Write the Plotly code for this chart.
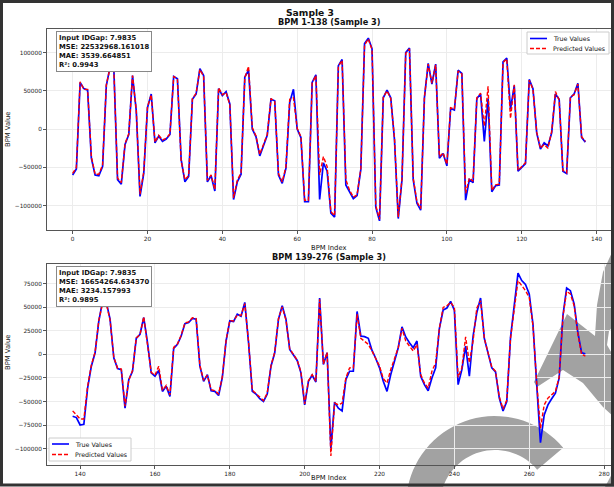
import numpy as np
import plotly.graph_objects as go

# ---------------- data ----------------
top_index = list(range(0, 138))
top_true = [-60000, -52000, 61000, 53000, 51000, -38000, -60000, -61000, -49000, 57000,
            81000, 81000, -66000, -72000, -20000, -7000, 70000, 24000, -88000, -58000,
            28000, 46000, -18000, -9000, -16000, -13000, -7000, 69000, 66000, -40000,
            -69000, -62000, 39000, 46000, 79000, 70000, -69000, -61000, -81000, 53000,
            44000, 49000, 33000, -92000, -69000, -59000, 68000, 77000, 0, -10000,
            -35000, -20000, -8000, 39000, 37000, -60000, -71000, -51000, 35000, 52000,
            0, -11000, -95000, -95000, 61000, 71000, -92000, -44000, -55000, -110000,
            -115000, 83000, 91000, -73000, -82000, -91000, -87000, -53000, 112000, 119000,
            105000, -102000, -120000, 41000, 51000, 41000, -14000, -117000, -66000, 100000,
            106000, -66000, -97000, -106000, 41000, 86000, 59000, 85000, -38000, -32000,
            -48000, 27000, 25000, 77000, 73000, -93000, -66000, -70000, 40000, 46000,
            -16000, 40000, -82000, -74000, -73000, 88000, 93000, 26000, 57000, -55000,
            -50000, -45000, 65000, 53000, -5000, -26000, -18000, -22000, -5000, 46000,
            39000, -55000, -58000, 41000, 46000, 60000, -11000, -17000]
top_pred = [-58000, -50000, 62000, 52000, 52000, -36000, -59000, -59000, -47000, 58000,
            80000, 80000, -64000, -70000, -19000, -6000, 70000, 25000, -85000, -56000,
            29000, 45000, -17000, -8000, -14000, -12000, -6000, 69000, 65000, -42000,
            -66000, -61000, 40000, 47000, 78000, 69000, -67000, -60000, -79000, 54000,
            45000, 48000, 32000, -90000, -67000, -57000, 67000, 82000, 2000, -9000,
            -33000, -20000, -7000, 40000, 36000, -58000, -69000, -49000, 39000, 41000,
            1000, -10000, -93000, -93000, 60000, 70000, -60000, -36000, -49000, -108000,
            -113000, 82000, 90000, -66000, -80000, -89000, -86000, -52000, 110000, 118000,
            104000, -100000, -118000, 42000, 50000, 40000, -12000, -115000, -65000, 99000,
            105000, -64000, -95000, -104000, 42000, 85000, 60000, 84000, -36000, -31000,
            -46000, 28000, 26000, 76000, 72000, -84000, -64000, -68000, 41000, 47000,
            4000, 56000, -80000, -73000, -72000, 87000, 92000, 14000, 58000, -54000,
            -49000, -44000, 64000, 52000, -4000, -25000, -20000, -25000, -3000, 49000,
            38000, -54000, -57000, 42000, 45000, 59000, -10000, -16000]

bottom_index = list(range(138, 276))
bottom_true = [-65700, -67100, -75000, -74300, -35700, -12500, 1800, 35700, 56400, 55300,
               37500, -3600, -15000, -16100, -57100, -26800, -17900, 17100, 21400, 39200,
               12500, -19600, -23200, -17100, -39300, -33900, -44600, 6400, 10700, 19600,
               32800, 33900, 38200, 37500, -12500, -28600, -21400, -38600, -39300, -43600,
               -24300, 14300, 35700, 35000, 42800, 40700, 55300, 12500, -39300, -42100,
               -47100, -50000, -42100, -12500, 1800, 37500, 51800, 37500, 5300, 0,
               -6400, -19600, -53600, -28600, -22100, -29300, 59900, -10700, 1800, -100000,
               -50700, -57100, -60000, -26800, -17900, -17900, 45700, 19600, 18900, 17100,
               4300, -4300, -14300, -28600, -39300, -21400, -7100, 7100, 29300, 18600,
               12500, 7100, 14300, -23200, -32100, -38600, -25000, -14300, 27800, 47100,
               49300, 56400, 47100, -32100, -16100, 8900, -23200, 19600, 44600, 59900,
               17100, 1800, -14300, -18600, -46400, -60000, -50000, 17900, 51800, 86400,
               78500, 74300, 64300, 32100, -32100, -93700, -64300, -53600, -47100, -41100,
               -25000, 41100, 70700, 67800, 53600, 23200, 1800, 700]
bottom_pred = [-60000, -64300, -68600, -68600, -34000, -11500, 2500, 36500, 54200, 54000,
               36500, -3000, -14500, -15500, -55000, -27500, -17000, 17500, 21000, 40000,
               13000, -19000, -22000, -12500, -38000, -33000, -43000, 7500, 11000, 20500,
               33500, 34500, 39000, 38000, -11500, -27500, -22000, -37500, -38500, -42000,
               -23500, 15000, 36000, 35500, 42000, 41500, 54000, 13500, -38000, -41500,
               -46000, -49000, -41000, -12000, 2500, 38000, 50500, 36500, 6000, 500,
               -6000, -18500, -52500, -28000, -21500, -28500, 58500, -10000, 2000, -107800,
               -51800, -53600, -51800, -25000, -14300, -14300, 42800, 17100, 14300, 10700,
               3600, -4300, -12500, -25700, -30400, -16100, -5400, 7100, 27800, 14300,
               8900, 3600, 10700, -21400, -30400, -35700, -17900, -8900, 27800, 50000,
               51800, 55300, 50000, -24300, -14300, 18600, -8900, 14300, 49300, 57100,
               17100, 2500, -13500, -18000, -45000, -58000, -48500, 17000, 50000, 78500,
               73200, 67800, 60700, 30400, -30400, -78600, -53600, -46400, -42800, -39300,
               -24000, 40000, 67100, 64300, 51800, 21400, 0, -1800]

top_ticks_x = [0, 20, 40, 60, 80, 100, 120, 140]
top_ticks_y = [-100000, -50000, 0, 50000, 100000]
bottom_ticks_x = [140, 160, 180, 200, 220, 240, 260, 280]
bottom_ticks_y = [-100000, -75000, -50000, -25000, 0, 25000, 50000, 75000]

series_names = ["True Values", "Predicted Values"]
top_stats = "Input IDGap: 7.9835<br>MSE: 22532968.161018<br>MAE: 3539.664851<br>R²: 0.9943"
bottom_stats = "Input IDGap: 7.9835<br>MSE: 16654264.634370<br>MAE: 3234.157993<br>R²: 0.9895"

# ---------------- layout geometry ----------------
W, H = 614, 487
L, R, T, B = 47, 3, 29, 22
PW, PH = W - L - R, H - T - B


def P(px, py):
    return (px - L) / PW, (H - B - py) / PH


def lims(a, b):
    lo = min(min(a), min(b))
    hi = max(max(a), max(b))
    m = (hi - lo) * 0.05
    return [lo - m, hi + m]


FONT = "DejaVu Sans"
BLUE, RED = "#0000ff", "#ff0000"
DASH = "4px,2px"
fig = go.Figure()

fig.add_trace(go.Scatter(x=top_index, y=top_true, mode="lines", name=series_names[0],
                         line=dict(color=BLUE, width=1.7), xaxis="x", yaxis="y"))
fig.add_trace(go.Scatter(x=top_index, y=top_pred, mode="lines", name=series_names[1],
                         line=dict(color=RED, width=1.4, dash=DASH), xaxis="x", yaxis="y"))
fig.add_trace(go.Scatter(x=bottom_index, y=bottom_true, mode="lines", name=series_names[0],
                         line=dict(color=BLUE, width=1.7), xaxis="x2", yaxis="y2"))
fig.add_trace(go.Scatter(x=bottom_index, y=bottom_pred, mode="lines", name=series_names[1],
                         line=dict(color=RED, width=1.4, dash=DASH), xaxis="x2", yaxis="y2"))

axis_common = dict(showline=True, mirror=True, linecolor="#555555", linewidth=1,
                   ticks="outside", ticklen=3, tickcolor="#555555", tickwidth=0.8,
                   tickfont=dict(family=FONT, size=5.8, color="#222222"),
                   showgrid=True, gridcolor="#ececec", gridwidth=0.8, zeroline=False)

y_top_dom = [(H - B - 230) / PH, 1.0]
y_bot_dom = [0.0, (H - B - 264) / PH]

fig.update_layout(
    width=W, height=H,
    margin=dict(l=L, r=R, t=T, b=B, autoexpand=False),
    paper_bgcolor="white", plot_bgcolor="rgba(0,0,0,0)",
    font=dict(family=FONT, color="#222222"),
    showlegend=False,
    xaxis=dict(domain=[0, 1], anchor="y", range=[-6.85, 143.85], tickvals=top_ticks_x,
               **axis_common),
    yaxis=dict(domain=y_top_dom, anchor="x", range=lims(top_true, top_pred),
               tickvals=top_ticks_y, tickformat="d", **axis_common),
    xaxis2=dict(domain=[0, 1], anchor="y2", range=[131.15, 281.85], tickvals=bottom_ticks_x,
                **axis_common),
    yaxis2=dict(domain=y_bot_dom, anchor="x2", range=lims(bottom_true, bottom_pred),
                tickvals=bottom_ticks_y, tickformat="d", **axis_common),
)

ann = []
shapes = []


def text(px, py, s, size, bold=False, angle=0, xanchor="center", yanchor="middle"):
    x, y = P(px, py)
    ann.append(dict(x=x, y=y, xref="paper", yref="paper", text=s, showarrow=False,
                    textangle=angle, xanchor=xanchor, yanchor=yanchor,
                    font=dict(family=FONT, size=size, color="#111111",
                              weight="bold" if bold else "normal")))


text(310, 12, "Sample 3", 9.2, bold=True)
text(329, 22, "BPM 1-138 (Sample 3)", 8.2, bold=True)
text(329, 257, "BPM 139-276 (Sample 3)", 8.2, bold=True)
text(329, 248, "BPM Index", 6.8)
text(329, 478, "BPM Index", 6.8)
text(8, 130, "BPM Value", 6.8, angle=-90)
text(8, 353, "BPM Value", 6.8, angle=-90)

for (bx, by, s) in [(56, 31, top_stats), (56, 266, bottom_stats)]:
    x, y = P(bx, by)
    ann.append(dict(x=x, y=y, xref="paper", yref="paper", text=s, showarrow=False,
                    xanchor="left", yanchor="top", align="left",
                    bgcolor="white", bordercolor="#888888", borderwidth=1, borderpad=2,
                    font=dict(family=FONT, size=6.8, color="#111111", weight="bold")))


# ---------------- legends (one per panel) ----------------
def legend_box(bx0, by0, bx1, by1, rows):
    x0, y0 = P(bx0, by1)
    x1, y1 = P(bx1, by0)
    shapes.append(dict(type="rect", xref="paper", yref="paper", x0=x0, x1=x1, y0=y0, y1=y1,
                       line=dict(color="#cccccc", width=1), fillcolor="white", layer="above"))
    for (lx0, lx1, ly, color, dash, name) in rows:
        a, b = P(lx0, ly)
        c, _ = P(lx1, ly)
        shapes.append(dict(type="line", xref="paper", yref="paper", x0=a, x1=c, y0=b, y1=b,
                           line=dict(color=color, width=1.6, dash=dash), layer="above"))
        text(lx1 + 4, ly, name, 6.3, xanchor="left")


legend_box(527, 32, 609, 54, [(530, 547, 38.5, BLUE, "solid", series_names[0]),
                              (530, 547, 48.5, RED, DASH, series_names[1])])
legend_box(49, 438, 131, 461, [(52, 69, 444, BLUE, "solid", series_names[0]),
                               (52, 69, 454.5, RED, DASH, series_names[1])])

fig.update_layout(annotations=ann)

# ---------------- decorative overlay (grey watermark) and figure frame ----------------
GREY = "#a2a2a2"


def path_from(pts):
    s = ""
    for i, (px, py) in enumerate(pts):
        x, y = P(px, py)
        s += ("M" if i == 0 else "L") + f"{x:.5f},{y:.5f} "
    return s + "Z"


cx, cy, ro, ri = 495, 505, 89, 55
ang = np.deg2rad(np.linspace(40, 192, 40))
outer = [(cx + ro * np.cos(a), cy - ro * np.sin(a)) for a in ang]
inner = [(cx + ri * np.cos(a), cy - ri * np.sin(a)) for a in ang[::-1]]
wm = [dict(type="path", path=path_from(outer + inner), xref="paper", yref="paper",
           fillcolor=GREY, line=dict(width=0), layer="below")]
chev = [(534, 382), (567, 314), (595, 336), (597, 305), (603, 272), (614, 248),
        (614, 325), (609, 331), (607, 345), (614, 357), (614, 417), (603, 407),
        (583, 383), (563, 370), (537, 387)]
wm.append(dict(type="path", path=path_from(chev), xref="paper", yref="paper",
               fillcolor=GREY, line=dict(width=0), layer="below"))
wm.append(dict(type="path", path=path_from([(605, 487), (614, 470), (614, 487)]),
               xref="paper", yref="paper", fillcolor=GREY, line=dict(width=0),
               layer="below"))

x0, y0 = P(1.5, 485)
x1, y1 = P(612.5, 1.5)
frame = dict(type="rect", xref="paper", yref="paper", x0=x0, x1=x1, y0=y0, y1=y1,
             line=dict(color="#333333", width=3), fillcolor="rgba(0,0,0,0)", layer="above")
fig.update_layout(shapes=wm + shapes + [frame])

fig.write_html("out.html", config={"displayModeBar": False},
               post_script="document.body.style.margin='0';document.body.style.padding='0';"
                           "document.body.style.overflow='hidden';")
